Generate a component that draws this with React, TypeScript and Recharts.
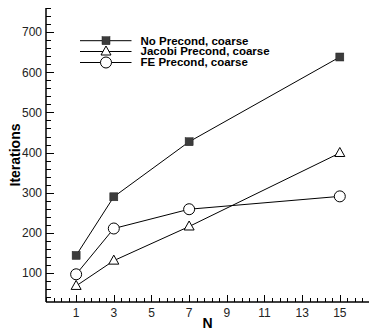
import React from 'react';
import { LineChart, Line, XAxis, YAxis, Legend } from 'recharts';

const nValues = [1, 3, 7, 15];
const noPrecond = [144, 290, 427, 638];
const jacobiPrecond = [68, 131, 216, 399];
const fePrecond = [97, 211, 259, 291];

const seriesNames = ['No Precond, coarse', 'Jacobi Precond, coarse', 'FE Precond, coarse'];

const xMajorTicks = [1, 3, 5, 7, 9, 11, 13, 15];
const yMajorTicks = [100, 200, 300, 400, 500, 600, 700];

const xDomain: [number, number] = [-0.6, 16.55];
const yDomain: [number, number] = [28, 760];

const xTicks: number[] = [];
for (let k = -4; k <= 38; k++) {
  const v = Math.round((1 + k * 0.4) * 10) / 10;
  if (v >= xDomain[0] && v <= xDomain[1]) xTicks.push(v);
}
const yTicks: number[] = [];
for (let v = 40; v <= 760; v += 20) yTicks.push(v);

const data = nValues.map((n, i) => ({
  n,
  noPre: noPrecond[i],
  jacobi: jacobiPrecond[i],
  fe: fePrecond[i],
}));

const FONT = '"Liberation Sans", Arial, Helvetica, sans-serif';

const isMajor = (list: number[], v: number) => list.some((m) => Math.abs(m - v) < 1e-6);

const XTick = (props: any) => {
  const { x, y, payload } = props;
  const major = isMajor(xMajorTicks, payload.value);
  const xx = Math.round(Number(x)) + 0.5;
  const yy = Number(y);
  return (
    <g>
      <path d={`M${xx},${yy}V${yy - (major ? 7 : 4)}`} stroke="#000" strokeWidth={1} fill="none" />
      {major && (
        <text x={Number(x)} y={yy + 14.5} textAnchor="middle" fontSize={12} fontFamily={FONT} fill="#222">
          {payload.value}
        </text>
      )}
    </g>
  );
};

const YTick = (props: any) => {
  const { x, y, payload } = props;
  const major = isMajor(yMajorTicks, payload.value);
  const xx = Number(x);
  const yy = Math.round(Number(y)) + 0.5;
  return (
    <g>
      <path d={`M${xx},${yy}H${xx + (major ? 8 : 5)}`} stroke="#000" strokeWidth={1} fill="none" />
      {major && (
        <text x={xx - 4} y={Number(y) + 4.3} textAnchor="end" fontSize={12} fontFamily={FONT} fill="#222">
          {payload.value}
        </text>
      )}
    </g>
  );
};

const Square = ({ cx, cy }: { cx: number; cy: number }) => (
  <rect x={cx - 4} y={cy - 4} width={8} height={8} fill="#3c3c3c" stroke="#222" strokeWidth={0.5} />
);
const Triangle = ({ cx, cy }: { cx: number; cy: number }) => (
  <polygon
    points={`${cx},${cy - 5.5} ${cx - 5},${cy + 3.5} ${cx + 5},${cy + 3.5}`}
    fill="#fff"
    stroke="#000"
    strokeWidth={1}
  />
);
const Circle = ({ cx, cy }: { cx: number; cy: number }) => (
  <circle cx={cx} cy={cy} r={5.5} fill="#fff" stroke="#000" strokeWidth={1} />
);

const dotOf = (Comp: any) => (props: any) => {
  const { cx, cy, key, index } = props;
  if (cx == null || cy == null) return <g key={key ?? index} />;
  return (
    <g key={key ?? `d-${index}`}>
      <Comp cx={cx} cy={cy} />
    </g>
  );
};

const symbols = [Square, Triangle, Circle];

const LegendContent = () => {
  const rows = [40.7, 51.5, 62.5];
  return (
    <svg width={369} height={80} style={{ display: 'block' }}>
      {seriesNames.map((name, i) => {
        const S = symbols[i];
        const ry = rows[i];
        return (
          <g key={name}>
            <path d={`M80,${ry}H131.5`} stroke="#000" strokeWidth={1} fill="none" />
            <S cx={106} cy={ry} />
            <text x={140.5} y={ry + 3.8} fontSize={11.5} fontWeight="bold" fontFamily={FONT} fill="#000">
              {name}
            </text>
          </g>
        );
      })}
    </svg>
  );
};

export default function App() {
  return (
    <div style={{ position: 'absolute', left: 0, top: 0, width: 369, height: 329, background: '#fff' }}>
      <LineChart width={369} height={329} data={data} margin={{ top: 8, right: 0, bottom: 0, left: 0 }}>
        <XAxis
          dataKey="n"
          type="number"
          domain={xDomain}
          allowDataOverflow
          ticks={xTicks}
          interval={0}
          tick={<XTick />}
          tickLine={false}
          tickSize={0}
          tickMargin={0}
          height={27}
          axisLine={{ stroke: '#000', strokeWidth: 1.5 }}
          label={{
            content: (p: any) => {
              const vb = p.viewBox || {};
              return (
                <text
                  x={vb.x + vb.width / 2}
                  y={327.5}
                  textAnchor="middle"
                  fontSize={14}
                  fontWeight="bold"
                  fontFamily={FONT}
                  fill="#000"
                >
                  N
                </text>
              );
            },
          }}
        />
        <YAxis
          type="number"
          domain={yDomain}
          allowDataOverflow
          ticks={yTicks}
          interval={0}
          tick={<YTick />}
          tickLine={false}
          tickSize={0}
          tickMargin={0}
          width={46}
          axisLine={{ stroke: '#000', strokeWidth: 1.5 }}
          label={{
            content: (p: any) => {
              const vb = p.viewBox || {};
              const cy = vb.y + vb.height / 2;
              return (
                <text
                  x={20}
                  y={cy}
                  transform={`rotate(-90, 20, ${cy})`}
                  textAnchor="middle"
                  fontSize={14}
                  fontWeight="bold"
                  fontFamily={FONT}
                  fill="#000"
                >
                  Iterations
                </text>
              );
            },
          }}
        />
        <Legend
          layout="vertical"
          align="center"
          verticalAlign="middle"
          wrapperStyle={{ left: 0, top: 0, width: 369, height: 80 }}
          content={<LegendContent />}
        />
        <Line
          dataKey="noPre"
          name={seriesNames[0]}
          type="linear"
          stroke="#000"
          strokeWidth={1}
          dot={dotOf(Square)}
          activeDot={false}
          isAnimationActive={false}
        />
        <Line
          dataKey="jacobi"
          name={seriesNames[1]}
          type="linear"
          stroke="#000"
          strokeWidth={1}
          dot={dotOf(Triangle)}
          activeDot={false}
          isAnimationActive={false}
        />
        <Line
          dataKey="fe"
          name={seriesNames[2]}
          type="linear"
          stroke="#000"
          strokeWidth={1}
          dot={dotOf(Circle)}
          activeDot={false}
          isAnimationActive={false}
        />
      </LineChart>
    </div>
  );
}
